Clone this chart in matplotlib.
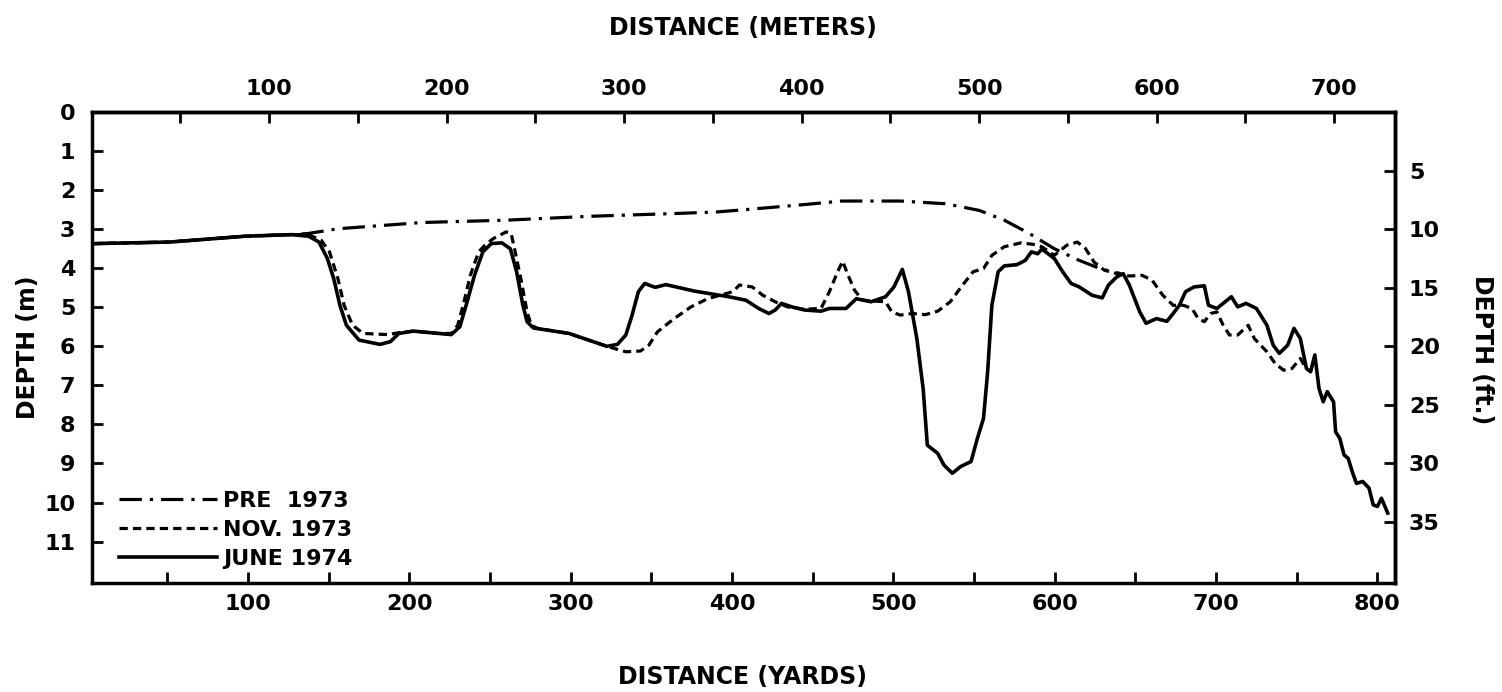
import matplotlib
matplotlib.use("Agg")
import matplotlib.pyplot as plt
from matplotlib.ticker import FixedLocator

# profile data, distance in yards, depth in metres
pre_yd = [4.6, 51.5, 98.4, 127.1, 137.5, 155.7, 207.8, 260.0, 312.0, 364.2, 390.2,
          408.3, 444.9, 468.1, 504.3, 532.7, 553.3, 568.8, 584.3, 599.8, 615.3,
          628.2, 641.1]
pre_m = [3.37, 3.33, 3.18, 3.14, 3.11, 2.99, 2.83, 2.77, 2.67, 2.60, 2.56,
         2.50, 2.37, 2.28, 2.28, 2.35, 2.52, 2.77, 3.11, 3.50, 3.80,
         4.01, 4.14]

nov_yd = [4.6, 51.5, 98.4, 127.1, 137.5, 145.3, 150.5, 155.7, 159.6, 164.8,
          171.4, 187.0, 193.5, 202.6, 218.3, 226.1, 230.0, 233.9, 237.8, 243.0,
          246.9, 252.1, 260.0, 263.1, 265.2, 269.1, 273.0, 275.6, 279.5, 299.0,
          322.5, 334.2, 343.3, 348.5, 353.8, 357.7, 364.2, 374.6, 385.0, 392.8,
          400.7, 404.6,
          412.6, 419.0, 426.8, 434.5, 444.9, 455.2, 460.4, 465.5, 468.6, 472.0,
          475.9, 481.0, 495.2, 499.1, 504.3, 512.0, 519.8, 527.5, 535.3, 543.0,
          549.5, 555.9, 561.1, 568.8, 579.2, 586.9, 592.1, 599.8, 607.6, 614.1,
          619.2, 624.4, 630.8, 638.6, 646.3, 654.1, 660.5, 667.0, 673.5, 679.9,
          685.1, 689.0, 692.8, 696.7, 700.6, 704.5, 708.4, 713.5, 720.0, 723.8,
          731.6, 736.7, 741.9, 747.1, 752.3, 756.1]
nov_m = [3.37, 3.33, 3.18, 3.14, 3.14, 3.28, 3.58, 4.26, 4.95, 5.46,
         5.67, 5.70, 5.65, 5.61, 5.67, 5.67, 5.46, 4.86, 4.18, 3.58,
         3.41, 3.24, 3.07, 3.11, 3.50, 4.26, 5.12, 5.46, 5.54, 5.67,
         6.00, 6.14, 6.12, 5.97, 5.63, 5.50, 5.29, 4.99, 4.78, 4.69,
         4.60, 4.43,
         4.48, 4.69, 4.86, 4.99, 5.05, 5.03, 4.60, 4.09, 3.82, 4.18,
         4.56, 4.82, 4.86, 5.12, 5.20, 5.16, 5.19, 5.10, 4.86, 4.43,
         4.09, 4.01, 3.67, 3.45, 3.35, 3.39, 3.45, 3.67, 3.41, 3.33,
         3.50, 3.84, 4.05, 4.14, 4.20, 4.18, 4.31, 4.69, 4.95, 4.95,
         5.03, 5.29, 5.37, 5.16, 5.12, 5.46, 5.71, 5.71, 5.46, 5.80,
         6.14, 6.44, 6.61, 6.57, 6.31, 6.57]

june_yd = [4.6, 51.5, 98.4, 127.0, 137.5, 144.0, 149.2, 153.1, 157.0, 161.0,
           168.8, 181.8, 188.3, 193.5, 202.6, 218.2, 226.0, 231.3, 235.2, 240.4,
           245.6, 250.8, 257.3, 262.6, 266.5, 270.4, 273.0, 276.9, 299.0, 322.5,
           329.0, 334.2, 338.1, 342.0, 345.9, 352.4, 359.0, 377.2, 398.0,
           408.7, 416.5, 422.9, 426.8, 430.7, 437.1, 444.9, 455.2, 460.4, 470.7,
           477.1, 486.2, 495.2, 500.4, 505.6, 509.4, 514.6, 518.5, 521.1, 527.5,
           531.4, 536.6, 541.7, 548.2, 552.1, 555.9, 558.5, 561.1, 565.0, 568.8,
           576.6, 581.8, 585.6, 589.5, 592.1, 599.8, 605.0, 610.2, 615.3, 623.1,
           629.5, 633.4, 638.6, 642.5, 646.3, 652.8, 656.7, 663.1, 669.6, 673.5,
           677.3, 681.2, 686.4, 692.8, 695.4, 700.6, 705.7, 709.6, 713.5, 718.7,
           725.1, 731.6, 735.5, 739.3, 744.5, 748.4, 752.3, 756.1, 758.7, 761.3,
           763.9, 766.5, 769.0, 772.9, 774.2, 776.8, 779.4, 782.0, 784.5, 787.1,
           791.0, 794.9, 797.5, 800.1, 802.6, 806.5]
june_m = [3.37, 3.33, 3.18, 3.14, 3.18, 3.33, 3.75, 4.26, 4.95, 5.46,
          5.84, 5.95, 5.88, 5.67, 5.61, 5.67, 5.70, 5.50, 4.95, 4.18,
          3.58, 3.37, 3.35, 3.50, 4.09, 4.95, 5.37, 5.53, 5.67, 6.00,
          5.95, 5.71, 5.20, 4.60, 4.39, 4.49, 4.42, 4.59, 4.73,
          4.82, 5.03, 5.16, 5.07, 4.90, 4.99, 5.07, 5.10, 5.03, 5.03,
          4.78, 4.86, 4.73, 4.48, 4.03, 4.60, 5.80, 7.08, 8.53, 8.74,
          9.04, 9.25, 9.08, 8.95, 8.36, 7.85, 6.65, 4.95, 4.09, 3.94,
          3.91, 3.80, 3.58, 3.63, 3.51, 3.75, 4.09, 4.39, 4.48, 4.69,
          4.76, 4.43, 4.22, 4.14, 4.43, 5.12, 5.41, 5.29, 5.36, 5.16,
          4.95, 4.60, 4.48, 4.45, 4.95, 5.03, 4.86, 4.73, 4.99, 4.90,
          5.03, 5.46, 5.97, 6.18, 5.97, 5.54, 5.80, 6.57, 6.65, 6.22,
          7.08, 7.42, 7.16, 7.42, 8.19, 8.36, 8.78, 8.87, 9.21, 9.51,
          9.46, 9.63, 10.06, 10.10, 9.89, 10.27]

labels = ["PRE  1973", "NOV. 1973", "JUNE 1974"]
yard_ticks = [100, 200, 300, 400, 500, 600, 700, 800]
meter_ticks = [100, 200, 300, 400, 500, 600, 700]
depth_m_ticks = list(range(0, 12))
depth_ft_ticks = [5, 10, 15, 20, 25, 30, 35]


# scales as drawn on the original (hand-lettered, not exact conversions)
def yd2m(x):
    return 0.9087 * x - 2.7


def m2yd(x):
    return (x + 2.7) / 0.9087


def m2ft(x):
    return 3.342 * x - 0.05


def ft2m(x):
    return (x + 0.05) / 3.342


plt.rcParams["font.family"] = "DejaVu Sans"
plt.rcParams["font.weight"] = "bold"

W, H = 1502, 692
fig = plt.figure(figsize=(W / 100, H / 100), dpi=100)
ax = fig.add_axes([92 / W, 1 - 583 / H, (1395 - 92) / W, (583 - 112) / H])

ax.plot(pre_yd, pre_m, color="black", lw=2.3, linestyle=(0, (7, 2.5, 1, 2.5)),
        label=labels[0])
ax.plot(nov_yd, nov_m, color="black", lw=2.3, linestyle=(0, (2.6, 1.6)),
        label=labels[1])
ax.plot(june_yd, june_m, color="black", lw=2.6, label=labels[2])

ax.set_xlim(3.3, 811)
ax.set_ylim(12.06, 0)

ax.xaxis.set_major_locator(FixedLocator(yard_ticks))
ax.xaxis.set_minor_locator(FixedLocator([v - 50 for v in yard_ticks]))
ax.yaxis.set_major_locator(FixedLocator(depth_m_ticks))
ax.tick_params(which="both", direction="in", length=8, width=2, labelsize=16, pad=8)
ax.tick_params(axis="y", pad=12)

for s in ax.spines.values():
    s.set_linewidth(2.5)

secx = ax.secondary_xaxis("top", functions=(yd2m, m2yd))
secx.xaxis.set_major_locator(FixedLocator(meter_ticks))
secx.xaxis.set_minor_locator(FixedLocator([v - 50 for v in meter_ticks]))
secx.tick_params(which="both", direction="in", length=8, width=2, labelsize=16, pad=9)
secx.spines["top"].set_linewidth(2.5)

secy = ax.secondary_yaxis("right", functions=(m2ft, ft2m))
secy.yaxis.set_major_locator(FixedLocator(depth_ft_ticks))
secy.tick_params(direction="in", length=8, width=2, labelsize=16, pad=10)
secy.spines["right"].set_linewidth(2.5)

fig.text(743 / W, 1 - 677 / H, "DISTANCE (YARDS)", ha="center", va="center", fontsize=17)
fig.text(743 / W, 1 - 28 / H, "DISTANCE (METERS)", ha="center", va="center", fontsize=17)
fig.text(28 / W, 1 - 347 / H, "DEPTH (m)", ha="center", va="center", rotation=90, fontsize=17)
fig.text(1482 / W, 1 - 350 / H, "DEPTH (ft.)", ha="center", va="center", rotation=270,
         fontsize=17)

ax.legend(loc="lower left", bbox_to_anchor=(0.021, 0.03), frameon=False, borderpad=0,
          borderaxespad=0, handlelength=4.4, handletextpad=0.25, labelspacing=0.4,
          fontsize=16)

fig.savefig("out.png", dpi=100)
